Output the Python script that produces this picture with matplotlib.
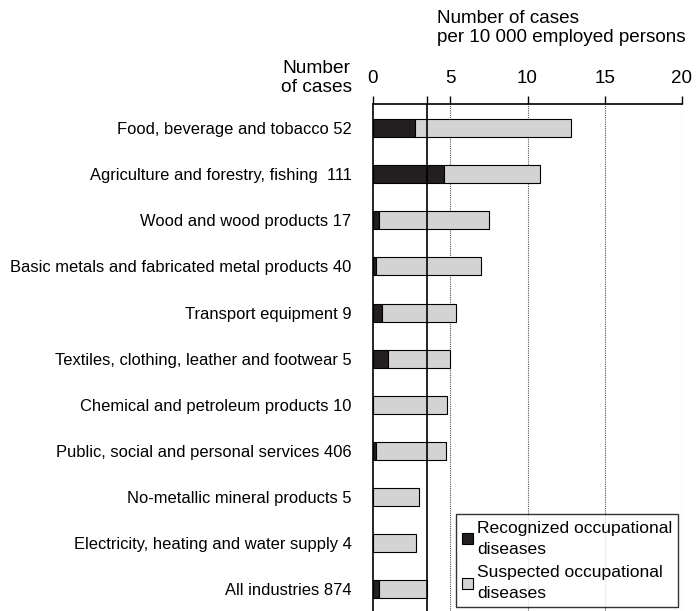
import numpy as np
import matplotlib.pyplot as plt
from matplotlib.patches import Patch

plt.rcParams['font.family'] = ['Liberation Sans', 'DejaVu Sans']

# --- data ---
industries = [
    'Food, beverage and tobacco 52',
    'Agriculture and forestry, fishing  111',
    'Wood and wood products 17',
    'Basic metals and fabricated metal products 40',
    'Transport equipment 9',
    'Textiles, clothing, leather and footwear 5',
    'Chemical and petroleum products 10',
    'Public, social and personal services 406',
    'No-metallic mineral products 5',
    'Electricity, heating and water supply 4',
    'All industries 874',
]
recognized = [2.7, 4.6, 0.4, 0.2, 0.6, 1.0, 0.0, 0.2, 0.0, 0.0, 0.4]
total = [12.8, 10.8, 7.5, 7.0, 5.4, 5.0, 4.8, 4.7, 3.0, 2.8, 3.5]
suspected = [t - r for t, r in zip(total, recognized)]
avg_all = 3.5
xticks = [0, 5, 10, 15, 20]

fig = plt.figure(figsize=(6.96, 6.11), dpi=100)
ax = fig.add_axes([373 / 696, 0.0, (682 - 373) / 696, (611 - 104) / 611])

y = np.arange(len(industries))
ax.barh(y, recognized, height=0.39, color='#231f20', edgecolor='black', linewidth=0.8)
ax.barh(y, suspected, left=recognized, height=0.39, color='#d3d3d3',
        edgecolor='black', linewidth=0.8)

for v in xticks[1:]:
    ax.axvline(v, color='#555555', linestyle=(0, (1, 1)), linewidth=0.8, zorder=0)
ax.axvline(avg_all, color='black', linewidth=1.2, zorder=3)

ax.set_xlim(0, 20)
ax.set_ylim(10.47, -0.52)
ax.xaxis.tick_top()
ax.set_xticks(xticks + [avg_all])
ax.set_xticklabels([str(v) for v in xticks] + [''])
ax.tick_params(axis='x', direction='out', length=6, width=1, pad=6.5, labelsize=13.5)
ax.set_yticks(y)
ax.set_yticklabels(industries)
ax.tick_params(axis='y', length=0, pad=15.5, labelsize=11.9)

for s in ['right', 'bottom']:
    ax.spines[s].set_visible(False)
ax.spines['top'].set_linewidth(1.2)
ax.spines['left'].set_linewidth(1.2)

fig.text(437 / 696, 1 - 28 / 611, 'Number of cases\nper 10 000 employed persons',
         ha='left', va='center', fontsize=13.6, linespacing=1.15)
fig.text(281 / 696, 1 - 78 / 611, 'Number\nof cases', ha='left', va='center',
         fontsize=13.8, linespacing=1.1, multialignment='center')

handles = [Patch(facecolor='#231f20', edgecolor='black', linewidth=0.8),
           Patch(facecolor='#d3d3d3', edgecolor='black', linewidth=0.8)]
leg = ax.legend(handles, ['Recognized occupational\ndiseases', 'Suspected occupational\ndiseases'],
                loc='lower right', bbox_to_anchor=(0.988, 0.007), fontsize=12.6,
                frameon=True, fancybox=False, handlelength=0.6, handleheight=0.6,
                handletextpad=0.25, borderpad=0.35, labelspacing=0.5, borderaxespad=0)
leg.get_frame().set_edgecolor('black')
leg.get_frame().set_linewidth(1)
for t in leg.get_texts():
    t.set_linespacing(1.5)

fig.savefig('out.png', dpi=100)
